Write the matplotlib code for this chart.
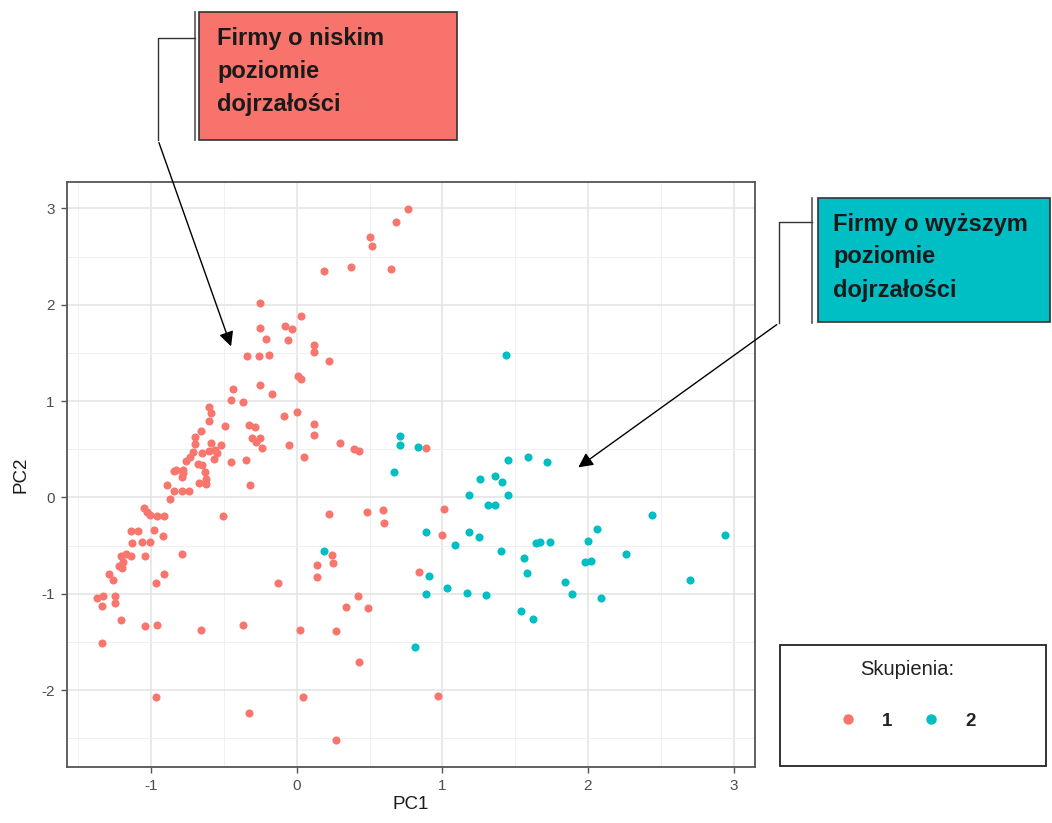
import matplotlib
matplotlib.use("Agg")
import matplotlib.pyplot as plt
from matplotlib.patches import Rectangle
from matplotlib.lines import Line2D
from matplotlib.ticker import MultipleLocator, FixedLocator

plt.rcParams['font.family'] = ['Liberation Sans', 'DejaVu Sans']

# ---- data: cluster 1 (red) ----
pc1_c1 = [0.765, 0.68, 0.50, 0.52, 0.37, 0.19, 0.65, -0.25, 0.03, -0.25, -0.08, -0.03,
          -0.21, -0.06, 0.12, 0.12, -0.34, -0.26, -0.19, 0.22, 0.01, 0.03, -0.25, -0.17,
          -0.44, -0.45, -0.37, -0.60, -0.59, -0.60, -0.49, -0.09, 0.00, 0.12, 0.12, -0.33,
          -0.29, -0.31, -0.25, -0.28, -0.24, -0.05, 0.05, 0.30, 0.39, 0.43, -0.66, -0.70,
          -0.70, -0.59, -0.52, -0.56, -0.60, -0.55, -0.57, -0.65, -0.71, -0.73, -0.76, -0.68,
          -0.65, -0.45, -0.35, -0.83, -0.78, -0.63,
          -0.84, -0.78, -0.79, -0.62, -0.67, -0.62, -0.32, -0.89, -0.84, -0.79, -0.74, -0.87,
          -1.05, -1.03, -1.01, -0.96, -0.91, -0.51, -1.14, -1.09, -0.98, -0.92, -1.13, -1.06,
          -1.01, -1.21, -1.17, -1.14, -1.19, -1.20, -1.22, -1.04, -0.79, -1.29, -1.26, -0.91,
          -0.97, -0.13, -1.37, -1.33, -1.34, -1.25, -1.25, -1.21, -1.04, -0.96, -0.66, -0.37,
          0.02, 0.27, -1.34, -0.97, 0.04, -0.33, 0.27, 0.22, 0.48, 0.59, 0.60, 0.24, 0.25,
          0.14, 0.14, 0.42, 0.34, 0.49, 0.43, 0.89, 1.01, 1.00, 0.84, 0.97]
pc2_c1 = [2.99, 2.86, 2.70, 2.61, 2.39, 2.35, 2.37, 2.02, 1.88, 1.76, 1.78, 1.75,
          1.64, 1.63, 1.58, 1.51, 1.47, 1.47, 1.48, 1.42, 1.26, 1.23, 1.17, 1.07,
          1.13, 1.01, 0.99, 0.94, 0.88, 0.79, 0.74, 0.85, 0.89, 0.76, 0.65, 0.75,
          0.73, 0.62, 0.62, 0.58, 0.51, 0.54, 0.42, 0.57, 0.50, 0.48, 0.69, 0.63,
          0.56, 0.57, 0.54, 0.49, 0.48, 0.46, 0.40, 0.46, 0.47, 0.42, 0.38, 0.35,
          0.34, 0.37, 0.39, 0.28, 0.29, 0.26,
          0.27, 0.25, 0.21, 0.19, 0.15, 0.14, 0.13, 0.13, 0.07, 0.07, 0.07, -0.02,
          -0.11, -0.15, -0.18, -0.19, -0.19, -0.19, -0.35, -0.35, -0.34, -0.40, -0.47, -0.46,
          -0.46, -0.61, -0.59, -0.61, -0.67, -0.73, -0.71, -0.61, -0.59, -0.79, -0.86, -0.79,
          -0.89, -0.89, -1.04, -1.02, -1.13, -1.02, -1.09, -1.27, -1.33, -1.32, -1.37, -1.32,
          -1.37, -1.39, -1.51, -2.07, -2.07, -2.24, -2.52, -0.17, -0.15, -0.13, -0.26, -0.60, -0.68,
          -0.70, -0.83, -1.02, -1.14, -1.15, -1.71, 0.51, -0.12, -0.39, -0.77, -2.06]

# ---- data: cluster 2 (teal) ----
pc1_c2 = [0.71, 0.71, 0.67, 0.19, 1.44, 0.83, 1.45, 1.59, 1.72, 1.26, 1.36, 1.41, 1.18,
          1.45, 1.31, 1.36, 0.89, 1.18, 1.25, 1.09, 1.40, 1.56, 1.58, 1.64, 1.67, 1.74,
          2.00, 2.06, 1.98, 2.02, 2.26, 2.44, 2.94, 2.70, 1.84, 1.89, 2.09, 0.91, 0.89,
          1.03, 1.17, 1.30, 1.54, 1.62, 0.81]
pc2_c2 = [0.64, 0.54, 0.26, -0.55, 1.48, 0.52, 0.39, 0.42, 0.37, 0.19, 0.22, 0.16, 0.03,
          0.03, -0.08, -0.08, -0.36, -0.36, -0.41, -0.49, -0.55, -0.63, -0.78, -0.47, -0.46, -0.46,
          -0.45, -0.33, -0.67, -0.66, -0.59, -0.18, -0.39, -0.86, -0.88, -1.00, -1.04, -0.81, -1.00,
          -0.94, -0.99, -1.01, -1.18, -1.26, -1.55]

cluster_labels = ["1", "2"]
x_ticks = [-1, 0, 1, 2, 3]
y_ticks = [-2, -1, 0, 1, 2, 3]
col1 = "#F8766D"
col2 = "#00BFC4"

W, H = 1052, 823
fig = plt.figure(figsize=(W / 100, H / 100), dpi=100)

# main panel (pixel box: 67..755 x, 182..767 y)
L, R, T, B = 67, 755, 182, 767
ax = fig.add_axes([L / W, 1 - B / H, (R - L) / W, (B - T) / H])
ax.set_xlim(-1.578, 3.147)
ax.set_ylim(-2.796, 3.273)
ax.scatter(pc1_c1, pc2_c1, s=34, color=col1, linewidths=0, zorder=3)
ax.scatter(pc1_c2, pc2_c2, s=34, color=col2, linewidths=0, zorder=3)

ax.xaxis.set_major_locator(FixedLocator(x_ticks))
ax.yaxis.set_major_locator(FixedLocator(y_ticks))
ax.xaxis.set_minor_locator(MultipleLocator(0.5))
ax.yaxis.set_minor_locator(MultipleLocator(0.5))
ax.set_xticklabels([str(v) for v in x_ticks])
ax.set_yticklabels([str(v) for v in y_ticks])
ax.grid(True, which='major', color='#E3E3E3', lw=1.1, zorder=0)
ax.grid(True, which='minor', color='#F0F0F0', lw=0.7, zorder=0)
ax.set_axisbelow(True)
ax.tick_params(which='major', length=4.5, width=1, color='#555555',
               labelsize=11, labelcolor='#4d4d4d', pad=4.5)
ax.tick_params(which='minor', length=0)
for sp in ax.spines.values():
    sp.set_color('#555555')
    sp.set_linewidth(1.3)
ax.set_xlabel("PC1", fontsize=13.5, color='#1a1a1a', labelpad=2)
ax.set_ylabel("PC2", fontsize=13.5, color='#1a1a1a', labelpad=8)

# overlay in pixel coordinates for callouts and legend frame
ov = fig.add_axes([0, 0, 1, 1], zorder=5)
ov.set_xlim(0, W)
ov.set_ylim(H, 0)
ov.axis('off')

# red callout
ov.add_patch(Rectangle((199, 12), 258, 128, facecolor='#F7736B', edgecolor='#333333', lw=1.2))
ov.plot([195, 195], [12, 140], color='#555555', lw=1.2)
ov.plot([195, 158, 158], [38, 38, 140], color='#333333', lw=1.0)
ov.annotate("", xy=(232, 349), xytext=(158, 140),
            arrowprops=dict(arrowstyle='-|>', color='black', lw=1.0, mutation_scale=22))
for i, line in enumerate(["Firmy o niskim", "poziomie", "dojrzałości"]):
    ov.text(217, 38 + i * 33, line, fontsize=17, fontweight='bold', color='#1a1a1a',
            ha='left', va='center')

# teal callout
ov.add_patch(Rectangle((818, 198), 232, 124, facecolor='#00BFC4', edgecolor='#333333', lw=1.2))
ov.plot([812, 812], [198, 323], color='#555555', lw=1.2)
ov.plot([812, 779, 779], [222, 222, 323], color='#333333', lw=1.0)
ov.annotate("", xy=(576, 469), xytext=(779, 323),
            arrowprops=dict(arrowstyle='-|>', color='black', lw=1.0, mutation_scale=22))
for i, line in enumerate(["Firmy o wyższym", "poziomie", "dojrzałości"]):
    ov.text(833, 224 + i * 33, line, fontsize=17, fontweight='bold', color='#1a1a1a',
            ha='left', va='center')

# legend frame and legend
ov.add_patch(Rectangle((780, 645), 266, 121, facecolor='white', edgecolor='#222222', lw=1.3))
handles = [Line2D([], [], marker='o', ls='', color=col1, markersize=6.5),
           Line2D([], [], marker='o', ls='', color=col2, markersize=6.5)]
leg = fig.legend(handles, cluster_labels, title="Skupienia:", ncol=2, frameon=False,
                 loc='center', bbox_to_anchor=(907 / W, 1 - 695 / H),
                 fontsize=13.5, title_fontsize=14.5, handletextpad=1.3, columnspacing=1.6,
                 handlelength=1.0, labelspacing=0.6, borderpad=0.2)
leg._legend_box.sep = 24
leg.set_zorder(6)
for t in leg.get_texts():
    t.set_color('#222222')
    t.set_fontweight('bold')
leg.get_title().set_color('#222222')

fig.savefig("out.png", dpi=100, facecolor='white')
